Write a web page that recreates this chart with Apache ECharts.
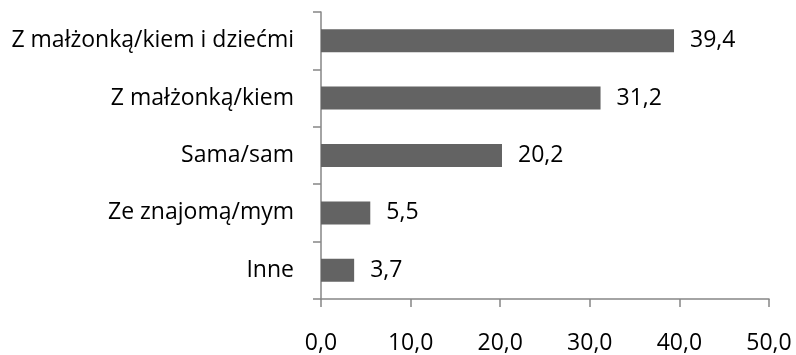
<!DOCTYPE html>
<html>
<head>
<meta charset="utf-8">
<script src="https://cdn.jsdelivr.net/npm/echarts@6/dist/echarts.min.js"></script>
<style>
  html, body { margin: 0; padding: 0; background: #fff; }
  #chart { width: 796px; height: 355px; }
</style>
</head>
<body>
<div id="chart"></div>
<script>
// Living arrangement categories and shares (%)
const categories = ['Z małżonką/kiem i dziećmi', 'Z małżonką/kiem', 'Sama/sam', 'Ze znajomą/mym', 'Inne'];
const values = [39.4, 31.2, 20.2, 5.5, 3.7];
const xTicks = [0, 10, 20, 30, 40, 50];

const fmt = v => v.toFixed(1).replace('.', ',');
const FONT = 'Open Sans';
const FS = 23;
const axisColor = '#868686';

const chart = echarts.init(document.getElementById('chart'), null, { renderer: 'canvas' });
chart.setOption({
  animation: false,
  grid: { left: 321, right: 27, top: 12, bottom: 54, containLabel: false },
  xAxis: {
    type: 'value',
    min: xTicks[0],
    max: xTicks[xTicks.length - 1],
    interval: 10,
    axisLine: { show: true, lineStyle: { color: axisColor, width: 1.5 } },
    axisTick: { show: true, length: 8, lineStyle: { color: axisColor, width: 1.5 } },
    splitLine: { show: false },
    axisLabel: {
      formatter: fmt, color: '#000', fontFamily: FONT, fontSize: FS, margin: 33
    }
  },
  yAxis: {
    type: 'category',
    data: categories,
    inverse: true,
    axisLine: { show: true, lineStyle: { color: axisColor, width: 1.5 } },
    axisTick: { show: true, length: 8, lineStyle: { color: axisColor, width: 1.5 } },
    axisLabel: { color: '#000', fontFamily: FONT, fontSize: FS, margin: 27 }
  },
  series: [{
    type: 'bar',
    data: values,
    barWidth: '40%',
    itemStyle: { color: '#636363' },
    label: {
      show: true, position: 'right', distance: 16,
      formatter: p => fmt(p.value),
      color: '#000', fontFamily: FONT, fontSize: FS
    }
  }]
});
</script>
</body>
</html>
